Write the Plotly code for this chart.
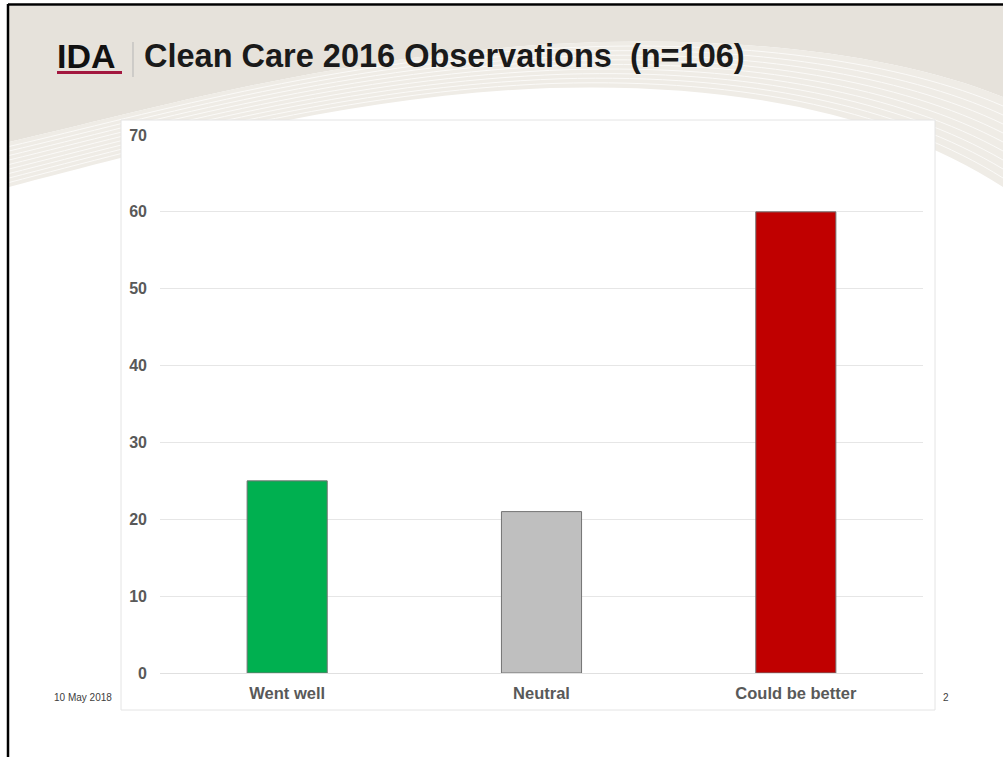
import plotly.graph_objects as go

categories = ["Went well", "Neutral", "Could be better"]
values = [25, 21, 60]
bar_colors = ["#00b050", "#bfbfbf", "#c00000"]
y_ticks = [0, 10, 20, 30, 40, 50, 60, 70]

W, H = 1003, 757
L, R, T, B = 160, 923, 135, 673  # plot area in px

def px(x):
    return (x - L) / (R - L)

def py(y):
    return (B - y) / (B - T)

def path(segs, close=True):
    s = ""
    for cmd, pts in segs:
        s += cmd + " " + " ".join(f"{px(x):.5f},{py(y):.5f}" for x, y in pts) + " "
    if close:
        s += "Z"
    return s

upper = [(9, 142), (150, 110), (350, 50), (600, 42), (750, 38), (900, 55), (1003, 97)]
lower = [(9, 187), (150, 150), (350, 95), (550, 88), (750, 82), (900, 120), (1003, 187)]

def curve_segs(pts):
    return [("M", [pts[0]]), ("C", pts[1:4]), ("C", pts[4:7])]

def rev(pts):
    return pts[::-1]

shapes = []
# beige top
beige = [("M", [(9, 6)]), ("L", [(1003, 6)]), ("L", [(1003, 97)]),
         ("C", rev(upper)[1:4]), ("C", rev(upper)[4:7])]
shapes.append(dict(type="path", xref="paper", yref="paper", path=path(beige),
                   fillcolor="#e6e2db", line=dict(width=0), layer="below"))
band = [("M", [upper[0]]), ("C", upper[1:4]), ("C", upper[4:7]),
        ("L", [lower[-1]]), ("C", rev(lower)[1:4]), ("C", rev(lower)[4:7])]
shapes.append(dict(type="path", xref="paper", yref="paper", path=path(band),
                   fillcolor="#efece6", line=dict(width=0), layer="below"))
for i in range(1, 10):
    t = i / 10
    pts = [(a[0] * (1 - t) + b[0] * t, a[1] * (1 - t) + b[1] * t) for a, b in zip(upper, lower)]
    shapes.append(dict(type="path", xref="paper", yref="paper", path=path(curve_segs(pts), close=False),
                       line=dict(color="#fbfaf8", width=1), layer="below"))
# chart box
shapes.append(dict(type="rect", xref="paper", yref="paper", x0=px(121), x1=px(935), y0=py(710), y1=py(120),
                   fillcolor="white", line=dict(color="#e4e4e4", width=1), layer="below"))
# slide borders
shapes.append(dict(type="line", xref="paper", yref="paper", x0=px(8), x1=px(8), y0=py(4), y1=py(757),
                   line=dict(color="black", width=2.5)))
shapes.append(dict(type="line", xref="paper", yref="paper", x0=px(8), x1=px(1003), y0=py(4.5), y1=py(4.5),
                   line=dict(color="black", width=2.5)))
# IDA underline and separator
shapes.append(dict(type="line", xref="paper", yref="paper", x0=px(57), x1=px(122), y0=py(72.5), y1=py(72.5),
                   line=dict(color="#a3173f", width=3)))
shapes.append(dict(type="line", xref="paper", yref="paper", x0=px(133), x1=px(133), y0=py(42), y1=py(77),
                   line=dict(color="#b5b5b5", width=1)))

fig = go.Figure(go.Bar(
    x=categories, y=values,
    marker=dict(color=bar_colors, line=dict(color="#737373", width=1)),
    width=0.315,
))

annotations = [
    dict(text="IDA", x=px(55), y=py(56), xref="paper", yref="paper", xanchor="left", yanchor="middle",
         showarrow=False, font=dict(family="Liberation Sans", size=34, color="#111111", weight="bold")),
    dict(text="Clean Care 2016 Observations  (n=106)", x=px(142), y=py(56), xref="paper", yref="paper",
         xanchor="left", yanchor="middle", showarrow=False,
         font=dict(family="Liberation Sans", size=32.5, color="#1a1a1a", weight="bold")),
    dict(text="10 May 2018", x=px(52), y=py(697), xref="paper", yref="paper", xanchor="left", yanchor="middle",
         showarrow=False, font=dict(family="Liberation Sans Narrow, Liberation Sans", size=10, color="#404040")),
    dict(text="2", x=px(946), y=py(697), xref="paper", yref="paper", xanchor="center", yanchor="middle",
         showarrow=False, font=dict(family="Liberation Sans", size=10, color="#404040")),
]

fig.update_layout(
    width=W, height=H,
    margin=dict(l=L, r=W - R, t=T, b=H - B, pad=0),
    paper_bgcolor="white",
    plot_bgcolor="rgba(0,0,0,0)",
    showlegend=False,
    shapes=shapes,
    annotations=annotations,
    xaxis=dict(showgrid=False, showline=False, ticks="", ticklabelstandoff=8,
               tickfont=dict(family="Liberation Sans", size=16.5, color="#595959", weight="bold")),
    yaxis=dict(range=[0, 70], tickvals=y_ticks, showgrid=True, gridcolor="#e6e6e6", gridwidth=1,
               zeroline=True, zerolinecolor="#e0e0e0", zerolinewidth=1, showline=False, ticks="",
               ticklabelstandoff=12,
               tickfont=dict(family="Liberation Sans", size=16, color="#595959", weight="bold")),
)

fig.write_html("out.html")
